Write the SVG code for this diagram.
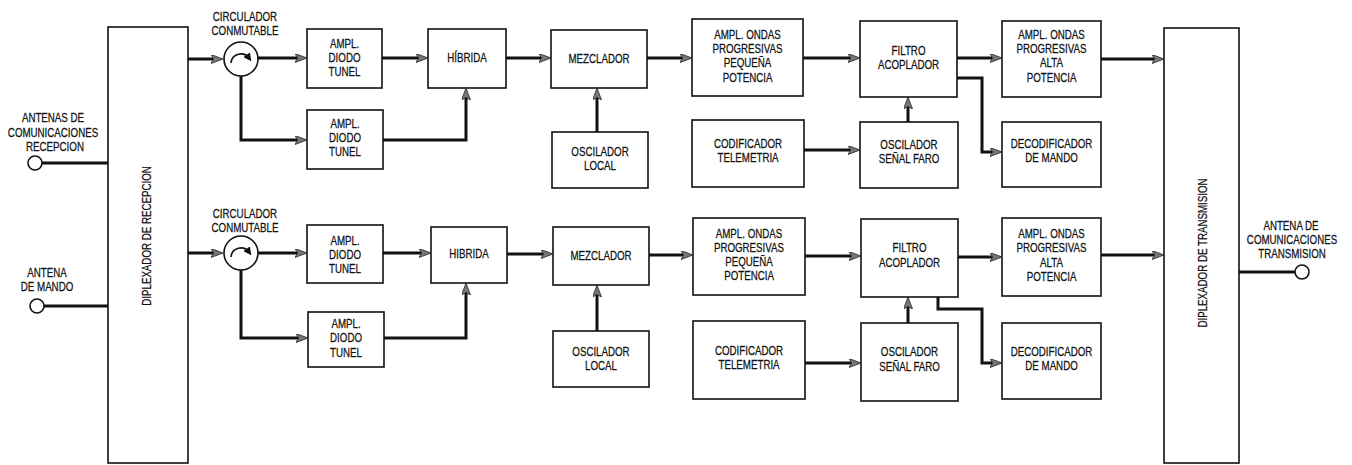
<svg xmlns="http://www.w3.org/2000/svg" width="1352" height="465" viewBox="0 0 1352 465">
<style>
.box{fill:#fff;stroke:#111;stroke-width:1.6}
.t{font-family:"Liberation Sans",Arial,sans-serif;font-size:12.5px;fill:#111;stroke:#111;stroke-width:0.25;text-anchor:middle;transform-box:fill-box;transform-origin:center;transform:scaleX(0.78)}
.c{fill:none;stroke:#111;stroke-width:3}
.ant{fill:#fff;stroke:#111;stroke-width:1.6}
</style>
<defs>
<marker id="ah" markerUnits="userSpaceOnUse" viewBox="0 0 12 9" markerWidth="12" markerHeight="9" refX="4" refY="4.5" orient="auto">
<path d="M0,0 L12,4.5 L0,9 L2.5,4.5 z" fill="#777" stroke="#222" stroke-width="0.8"/>
</marker>
<marker id="sh" markerUnits="userSpaceOnUse" viewBox="0 0 8 8" markerWidth="8" markerHeight="8" refX="4" refY="4" orient="auto">
<path d="M0,0 L8,4 L0,8 z" fill="#111"/>
</marker>
</defs>

<g id="ant-recepcion">
<circle class="ant" cx="35" cy="163" r="7"/>
<text class="t" x="53" y="122">ANTENAS DE</text>
<text class="t" x="53" y="137">COMUNICACIONES</text>
<text class="t" x="55" y="151">RECEPCION</text>
</g>
<g id="ant-mando">
<circle class="ant" cx="37" cy="306" r="7"/>
<text class="t" x="47" y="277">ANTENA</text>
<text class="t" x="47" y="291">DE MANDO</text>
</g>
<g id="ant-transmision">
<circle class="ant" cx="1302" cy="272" r="7"/>
<text class="t" x="1291" y="230">ANTENA DE</text>
<text class="t" x="1292" y="244">COMUNICACIONES</text>
<text class="t" x="1292" y="258">TRANSMISION</text>
</g>

<g id="diplex-rx">
<rect class="box" x="108" y="27" width="80" height="436"/>
<g transform="translate(151,236) rotate(-90)"><text class="t" x="0" y="0" style="font-size:12.5px">DIPLEXADOR DE RECEPCION</text></g>
</g>
<g id="diplex-tx">
<rect class="box" x="1164" y="28" width="75" height="435"/>
<g transform="translate(1207,253) rotate(-90)"><text class="t" x="0" y="0" style="font-size:12.5px">DIPLEXADOR DE TRANSMISION</text></g>
</g>

<g id="circ1">
<text class="t" x="245" y="21">CIRCULADOR</text>
<text class="t" x="245" y="35">CONMUTABLE</text>
<circle class="ant" cx="241" cy="59" r="17"/>
<path d="M231,63 A10,10 0 0 1 249,58" fill="none" stroke="#111" stroke-width="1.6" marker-end="url(#sh)"/>
</g>
<g id="circ2">
<text class="t" x="245" y="218">CIRCULADOR</text>
<text class="t" x="245" y="232">CONMUTABLE</text>
<circle class="ant" cx="241" cy="253" r="17"/>
<path d="M231,257 A10,10 0 0 1 249,252" fill="none" stroke="#111" stroke-width="1.6" marker-end="url(#sh)"/>
</g>

<g id="ampl1a"><rect class="box" x="307" y="29" width="75" height="59"/>
<text class="t" x="344.5" y="48">AMPL.</text><text class="t" x="344.5" y="62">DIODO</text><text class="t" x="344.5" y="76">TUNEL</text></g>
<g id="ampl1b"><rect class="box" x="307" y="110" width="76" height="59"/>
<text class="t" x="345" y="128">AMPL.</text><text class="t" x="345" y="142">DIODO</text><text class="t" x="345" y="156">TUNEL</text></g>
<g id="hib1"><rect class="box" x="428" y="29" width="78" height="59"/>
<text class="t" x="467" y="62">HÍBRIDA</text></g>
<g id="mez1"><rect class="box" x="551" y="30" width="96" height="58"/>
<text class="t" x="599" y="63">MEZCLADOR</text></g>
<g id="osc1"><rect class="box" x="552" y="132" width="96" height="56"/>
<text class="t" x="600" y="156">OSCILADOR</text><text class="t" x="600" y="170">LOCAL</text></g>
<g id="ampq1"><rect class="box" x="692" y="19" width="111" height="77"/>
<text class="t" x="747.5" y="39">AMPL. ONDAS</text><text class="t" x="747.5" y="53">PROGRESIVAS</text><text class="t" x="747.5" y="67">PEQUEÑA</text><text class="t" x="747.5" y="82">POTENCIA</text></g>
<g id="fil1"><rect class="box" x="860" y="21" width="97" height="76"/>
<text class="t" x="908.5" y="55">FILTRO</text><text class="t" x="908.5" y="69">ACOPLADOR</text></g>
<g id="cod1"><rect class="box" x="692" y="120" width="112" height="67"/>
<text class="t" x="748" y="148">CODIFICADOR</text><text class="t" x="748" y="162">TELEMETRIA</text></g>
<g id="far1"><rect class="box" x="860" y="122" width="98" height="66"/>
<text class="t" x="909" y="149">OSCILADOR</text><text class="t" x="909" y="163">SEÑAL FARO</text></g>
<g id="ampa1"><rect class="box" x="1002" y="21" width="99" height="76"/>
<text class="t" x="1051.5" y="39">AMPL. ONDAS</text><text class="t" x="1051.5" y="53">PROGRESIVAS</text><text class="t" x="1051.5" y="67">ALTA</text><text class="t" x="1051.5" y="82">POTENCIA</text></g>
<g id="dec1"><rect class="box" x="1002" y="122" width="99" height="65"/>
<text class="t" x="1051.5" y="148">DECODIFICADOR</text><text class="t" x="1051.5" y="162">DE MANDO</text></g>

<g id="ampl2a"><rect class="box" x="307" y="225" width="76" height="58"/>
<text class="t" x="345" y="245">AMPL.</text><text class="t" x="345" y="259">DIODO</text><text class="t" x="345" y="273">TUNEL</text></g>
<g id="ampl2b"><rect class="box" x="308" y="312" width="76" height="55"/>
<text class="t" x="346" y="328">AMPL.</text><text class="t" x="346" y="342">DIODO</text><text class="t" x="346" y="357">TUNEL</text></g>
<g id="hib2"><rect class="box" x="431" y="227" width="76" height="56"/>
<text class="t" x="469" y="258">HIBRIDA</text></g>
<g id="mez2"><rect class="box" x="553" y="227" width="96" height="58"/>
<text class="t" x="601" y="260">MEZCLADOR</text></g>
<g id="osc2"><rect class="box" x="553" y="331" width="96" height="56"/>
<text class="t" x="601" y="356">OSCILADOR</text><text class="t" x="601" y="370">LOCAL</text></g>
<g id="ampq2"><rect class="box" x="693" y="218" width="112" height="77"/>
<text class="t" x="749" y="238">AMPL. ONDAS</text><text class="t" x="749" y="252">PROGRESIVAS</text><text class="t" x="749" y="266">PEQUEÑA</text><text class="t" x="749" y="280">POTENCIA</text></g>
<g id="fil2"><rect class="box" x="861" y="219" width="97" height="78"/>
<text class="t" x="909.5" y="252">FILTRO</text><text class="t" x="909.5" y="267">ACOPLADOR</text></g>
<g id="cod2"><rect class="box" x="693" y="321" width="112" height="78"/>
<text class="t" x="749" y="355">CODIFICADOR</text><text class="t" x="749" y="369">TELEMETRIA</text></g>
<g id="far2"><rect class="box" x="861" y="323" width="97" height="78"/>
<text class="t" x="909.5" y="356">OSCILADOR</text><text class="t" x="909.5" y="371">SEÑAL FARO</text></g>
<g id="ampa2"><rect class="box" x="1002" y="218" width="99" height="78"/>
<text class="t" x="1051.5" y="238">AMPL. ONDAS</text><text class="t" x="1051.5" y="252">PROGRESIVAS</text><text class="t" x="1051.5" y="267">ALTA</text><text class="t" x="1051.5" y="281">POTENCIA</text></g>
<g id="dec2"><rect class="box" x="1002" y="323" width="99" height="76"/>
<text class="t" x="1051.5" y="356">DECODIFICADOR</text><text class="t" x="1051.5" y="370">DE MANDO</text></g>

<g id="connectors">
<path class="c" d="M42,163 H108"/>
<path class="c" d="M44,306 H108"/>
<path class="c" d="M1239,272 H1295"/>
<g marker-end="url(#ah)">
<path class="c" d="M188,59 H215"/>
<path class="c" d="M258,58 H299"/>
<path class="c" d="M241,76 V140 H299"/>
<path class="c" d="M382,58 H420"/>
<path class="c" d="M383,140 H466 V96"/>
<path class="c" d="M506,58 H543"/>
<path class="c" d="M597,132 V96"/>
<path class="c" d="M647,58 H684"/>
<path class="c" d="M803,58 H852"/>
<path class="c" d="M804,150 H852"/>
<path class="c" d="M908,122 V105"/>
<path class="c" d="M957,58 H994"/>
<path class="c" d="M957,78 H982 V152 H994"/>
<path class="c" d="M1101,59 H1156"/>
<path class="c" d="M188,253 H215"/>
<path class="c" d="M258,253 H299"/>
<path class="c" d="M241,270 V338 H300"/>
<path class="c" d="M383,253 H423"/>
<path class="c" d="M384,338 H466 V291"/>
<path class="c" d="M507,254 H545"/>
<path class="c" d="M597,331 V293"/>
<path class="c" d="M649,255 H685"/>
<path class="c" d="M805,256 H853"/>
<path class="c" d="M805,363 H853"/>
<path class="c" d="M908,323 V305"/>
<path class="c" d="M958,257 H994"/>
<path class="c" d="M938,297 V309 H982 V363 H994"/>
<path class="c" d="M1101,255 H1156"/>
</g>
</g>
</svg>
